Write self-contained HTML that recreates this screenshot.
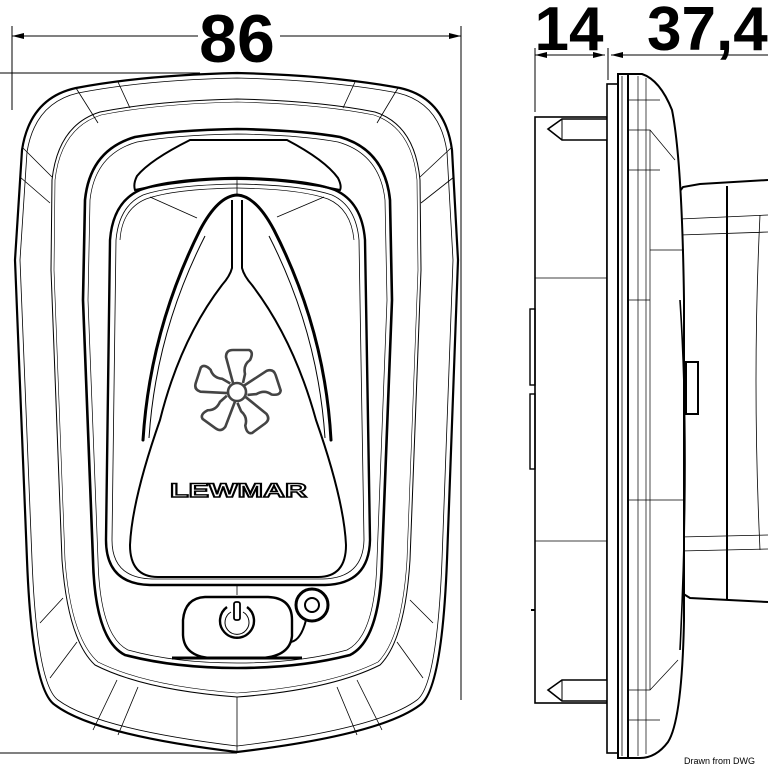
<!DOCTYPE html>
<html><head><meta charset="utf-8"><style>
html,body{margin:0;padding:0;background:#fff}
svg{display:block}
</style></head><body>
<svg width="768" height="768" viewBox="0 0 768 768" xmlns="http://www.w3.org/2000/svg">
<defs>
<marker id="ar" viewBox="0 0 12 6" refX="12" refY="3" markerWidth="12" markerHeight="6" orient="auto-start-reverse" markerUnits="userSpaceOnUse"><path d="M0,0 L12,3 L0,6 Z" fill="#000"/></marker>
</defs>
<g font-family="Liberation Sans, sans-serif" font-weight="bold" fill="#000">
<text x="237" y="62" font-size="68" text-anchor="middle">86</text>
<text x="569" y="50" font-size="62" text-anchor="middle">14</text>
<text x="647" y="50" font-size="62">37,4</text>
</g>
<g stroke="#000" fill="none" stroke-width="1">
<line x1="12" y1="36" x2="198" y2="36" marker-start="url(#ar)"/>
<line x1="280" y1="36" x2="461" y2="36" marker-end="url(#ar)"/>
<line x1="12" y1="26" x2="12" y2="110"/>
<line x1="461" y1="26" x2="461" y2="700"/>
<line x1="0" y1="73" x2="200" y2="73"/>
<line x1="0" y1="753" x2="237" y2="753"/>
<line x1="535" y1="48" x2="535" y2="112"/>
<line x1="608" y1="48" x2="608" y2="80"/>
<line x1="535" y1="55" x2="605" y2="55" marker-start="url(#ar)" marker-end="url(#ar)"/>
<line x1="611" y1="55" x2="768" y2="55" marker-start="url(#ar)"/>
</g>
<g fill="none" stroke="#000">
<path stroke-width="2.2" d="M237,73 Q330,75 400,88 Q445,98 452,150 L458,260 L447,560 Q442,690 420,705 Q380,735 237,752 Q95,735 55,705 Q32,690 27,560 L15,260 L22,150 Q30,98 76,88 Q145,75 237,73Z"/>
<path stroke-width="0.8" d="M237,78 Q330,80 398,93 Q440,103 447,152 L453,260 L442,560 Q437,685 417,700 Q378,729 237,746 Q97,729 58,700 Q37,685 32,560 L20,260 L27,152 Q35,103 78,93 Q145,80 237,78Z"/>
<path stroke-width="1" d="M237,99 Q320,101 375,112 Q415,125 420,180 L421,270 L410,560 Q405,640 380,665 Q330,690 237,697 Q144,690 95,665 Q68,640 62,560 L51,270 L52,180 Q58,125 100,112 Q155,101 237,99Z"/>
<path stroke-width="0.6" d="M237,102 Q320,104 374,115 Q412,128 417,180 L418,270 L407,560 Q402,638 378,662 Q330,686 237,693 Q146,686 98,662 Q71,638 65,560 L54,270 L55,180 Q61,128 101,115 Q155,104 237,102Z"/>
<g stroke-width="0.8">
<line x1="76" y1="88" x2="98" y2="123"/><line x1="118" y1="82" x2="130" y2="108"/>
<line x1="398" y1="88" x2="377" y2="123"/><line x1="355" y1="82" x2="343" y2="108"/>
<line x1="22" y1="147" x2="52" y2="177"/><line x1="20" y1="177" x2="50" y2="203"/>
<line x1="452" y1="147" x2="420" y2="177"/><line x1="454" y1="177" x2="421" y2="203"/>
<line x1="40" y1="623" x2="63" y2="598"/><line x1="50" y1="678" x2="77" y2="642"/>
<line x1="93" y1="730" x2="117" y2="680"/><line x1="118" y1="735" x2="138" y2="687"/>
<line x1="237" y1="697" x2="237" y2="752"/>
<line x1="337" y1="687" x2="357" y2="735"/><line x1="357" y1="680" x2="382" y2="730"/>
<line x1="397" y1="642" x2="423" y2="678"/><line x1="410" y1="600" x2="433" y2="623"/>
</g>
<path stroke-width="2.6" d="M237,129 Q300,130 340,137 Q385,150 390,200 L392,300 L382,560 Q380,640 350,655 Q300,668 237,668 Q175,668 125,655 Q95,640 93,560 L83,300 L85,200 Q90,150 135,137 Q175,130 237,129Z"/>
<path stroke-width="0.7" d="M237,134 Q300,135 338,142 Q380,154 385,200 L387,300 L377,560 Q375,636 347,650 Q300,663 237,663 Q175,663 128,650 Q100,636 98,560 L88,300 L90,200 Q95,154 137,142 Q175,135 237,134Z"/>
<path stroke-width="2" d="M190,140 L287,140 Q325,160 338,178 Q342,186 340,190 Q237,168 135,190 Q133,184 137,176 Q150,160 190,140Z"/>
<path stroke-width="2.4" d="M237,178 Q305,179 335,190 Q362,202 365,240 L370,540 Q369,584 325,585 L150,585 Q106,584 106,540 L110,240 Q113,202 140,190 Q170,179 237,178Z"/>
<path stroke-width="0.8" d="M237,184 Q303,185 332,195 Q356,206 359,240 L364,540 Q363,578 323,579 L152,579 Q112,578 112,540 L116,240 Q119,206 143,195 Q172,185 237,184Z"/>
<path stroke-width="0.7" d="M237,188 Q300,189 328,199 Q351,209 354,240"/>
<path stroke-width="0.7" d="M237,188 Q174,189 146,199 Q122,209 120,240"/>
<line stroke-width="0.8" x1="237" y1="178" x2="237" y2="195"/>
<line stroke-width="0.8" x1="150" y1="197" x2="197" y2="218"/>
<line stroke-width="0.8" x1="324" y1="197" x2="277" y2="217"/>
<line stroke-width="0.8" x1="237" y1="585" x2="237" y2="595"/>
<path stroke-width="3" stroke-linecap="round" d="M143,440 Q150,330 200,230 Q218,196 237,195 Q256,196 274,230 Q325,330 331,440"/>
<path stroke-width="1" d="M149,438 Q156,332 205,236"/>
<path stroke-width="1" d="M325,438 Q318,332 269,236"/>
<path stroke-width="2" d="M232,200 L232,268 Q230,276 222,285 Q180,340 160,420 Q132,500 130,545 Q130,577 158,577 L318,577 Q346,577 346,545 Q344,500 316,420 Q294,340 252,285 Q244,276 242,268 L242,200"/>
<g transform="translate(237,392)" stroke="#444" stroke-width="2.6" stroke-linejoin="round">
<circle r="9"/>
<g id="bl"><path d="M-4,-9 L-11,-35 Q-11,-42 -4,-42 L12,-42 Q17,-40 13,-32 Q6,-27 8,-18 L6,-9"/></g>
<use href="#bl" transform="rotate(72)"/>
<use href="#bl" transform="rotate(144)"/>
<use href="#bl" transform="rotate(216)"/>
<use href="#bl" transform="rotate(288)"/>
</g>
<!-- power button -->
<path stroke-width="2.4" d="M205,597 L268,597 Q292,598 292,620 L292,636 Q290,656 262,658 L210,658 Q184,656 183,635 L183,620 Q185,598 205,597Z"/>
<path stroke-width="2" d="M291,642 Q301,640 306,620"/>
<line stroke-width="3" x1="172" y1="658" x2="302" y2="658"/>
<path stroke-width="2.4" d="M227,607 A17,17 0 1 0 247,607"/>
<path stroke-width="1" d="M231,612 A12,12 0 1 0 243,612"/>
<rect x="234" y="602" width="6" height="18" rx="2" stroke-width="1.8"/>
<circle cx="312" cy="605" r="16" stroke-width="3" fill="#fff"/>
<circle cx="312" cy="605" r="7" stroke-width="2"/>
</g>
<text x="170" y="497" font-family="Liberation Sans, sans-serif" font-weight="bold" font-size="19" textLength="137" lengthAdjust="spacingAndGlyphs" fill="#fff" stroke="#000" stroke-width="1.4">LEWMAR</text>
<g fill="none" stroke="#000">
<rect x="535" y="117" width="72" height="586" stroke-width="1.6"/>
<line x1="535" y1="278" x2="607" y2="278" stroke-width="0.8"/>
<line x1="535" y1="541" x2="607" y2="541" stroke-width="0.8"/>
<rect x="530" y="309" width="5" height="76" stroke-width="1.4"/>
<rect x="530" y="394" width="5" height="75" stroke-width="1.4"/>
<line x1="531" y1="610" x2="535" y2="610" stroke-width="2"/>
<path stroke-width="1.6" fill="#fff" d="M607,119 L562,119 L548,129 L562,140 L607,140"/>
<line x1="562" y1="119" x2="562" y2="140" stroke-width="1"/>
<path stroke-width="1.6" fill="#fff" d="M607,680 L562,680 L548,690 L562,701 L607,701"/>
<line x1="562" y1="680" x2="562" y2="701" stroke-width="1"/>
<rect x="607" y="84" width="11" height="669" stroke-width="1.6" fill="#fff"/>
<rect x="618" y="74" width="10" height="684" stroke-width="2" fill="#fff"/>
<line x1="622" y1="76" x2="622" y2="756" stroke-width="0.8"/>
<path stroke-width="2" fill="#fff" d="M768,180 L700,184 L683,187 L677,195 L677,590 L690,598 L768,602"/>
<line x1="727" y1="186" x2="727" y2="599" stroke-width="2"/>
<path stroke-width="0.8" d="M680,219 L768,215 M680,235 L768,232 M680,537 L768,535 M680,551 L768,549 M760,215 Q752,380 760,550"/>
<rect x="686" y="362" width="12" height="52" stroke-width="2" fill="#fff"/>
<path stroke-width="2" fill="#fff" d="M628,74 L642,74 Q660,80 672,110 Q682,160 684,300 L684,620 Q682,720 668,742 Q656,758 640,758 L628,758 Z"/>
<path stroke-width="0.7" d="M638,76 L638,756 M646,78 L646,754 M628,100 L660,100 M628,130 L650,130 L675,160 M650,250 L684,250 M628,170 L660,170 M628,300 L650,300 M628,500 L684,500 M628,690 L650,690 L678,660 M628,720 L660,720 M650,130 L650,690"/>
<path stroke-width="1.6" d="M680,300 Q690,450 680,650"/>
</g>
<text x="684" y="764" font-family="Liberation Sans, sans-serif" font-size="9" fill="#000">Drawn from DWG</text>
</svg>
</body></html>
